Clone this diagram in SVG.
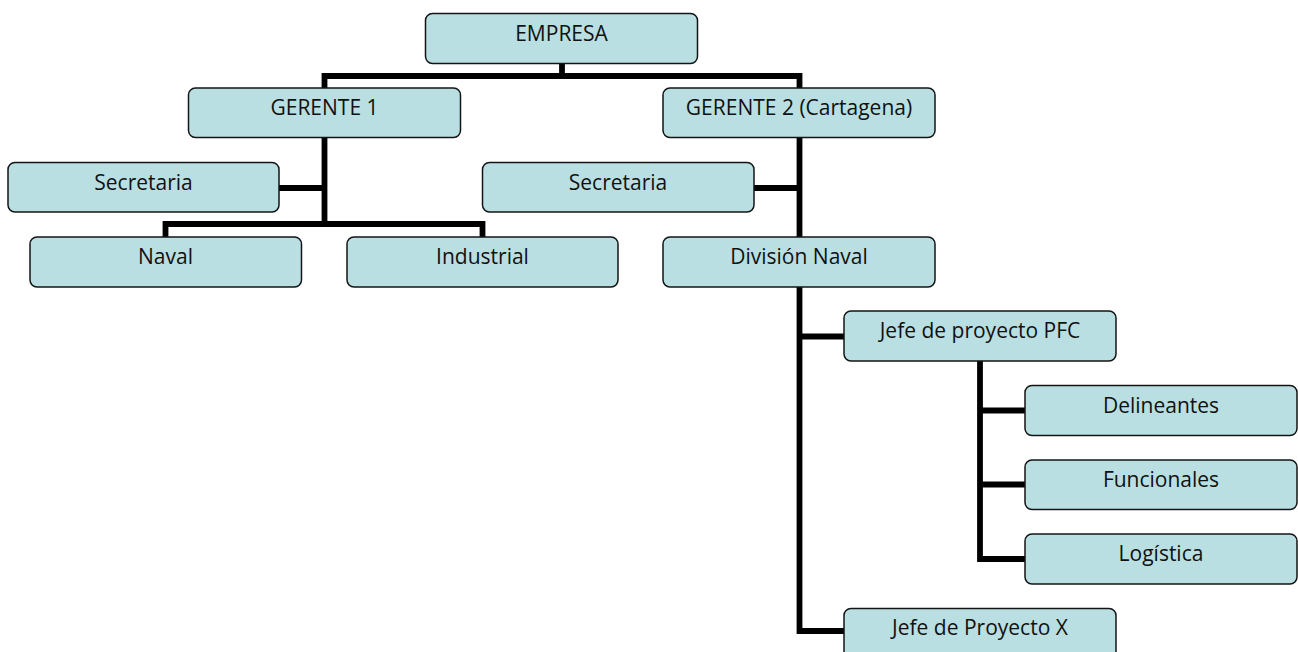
<svg xmlns="http://www.w3.org/2000/svg" width="1298" height="652" viewBox="0 0 1298 652">
  <style>
    .box { fill: #B9DFE2; stroke: #141414; stroke-width: 1.5; }
    .lbl { font-family: "Open Sans", "Liberation Sans", sans-serif; font-size: 21px; fill: #111; text-anchor: middle; }
    .conn { fill: none; stroke: #000; stroke-width: 5.8; stroke-linejoin: miter; stroke-linecap: butt; }
  </style>
  <rect width="1298" height="652" fill="#ffffff"/>
  <g id="connectors">
    <path class="conn" d="M562,63.5 V76"/>
    <path class="conn" d="M324.5,88 V76 H799.5 V88"/>
    <path class="conn" d="M324.5,137.5 V227"/>
    <path class="conn" d="M279,188 H324.5"/>
    <path class="conn" d="M165.5,237 V224 H482.5 V237"/>
    <path class="conn" d="M799.5,137.5 V237"/>
    <path class="conn" d="M754,188 H799.5"/>
    <path class="conn" d="M799.5,287 V631 H844"/>
    <path class="conn" d="M799.5,336.5 H844"/>
    <path class="conn" d="M980,360.5 V559 H1025"/>
    <path class="conn" d="M980,410.5 H1025"/>
    <path class="conn" d="M980,484.5 H1025"/>
  </g>
  <g id="empresa">
    <rect class="box" x="425.5" y="13.5" width="272" height="50" rx="7"/>
    <text class="lbl" x="561.5" y="40.5">EMPRESA</text>
  </g>
  <g id="gerente1">
    <rect class="box" x="188.5" y="88" width="272" height="49.5" rx="7"/>
    <text class="lbl" x="324.5" y="115">GERENTE 1</text>
  </g>
  <g id="gerente2">
    <rect class="box" x="663" y="88" width="272" height="49.5" rx="7"/>
    <text class="lbl" x="799" y="115">GERENTE 2 (Cartagena)</text>
  </g>
  <g id="secretaria1">
    <rect class="box" x="8" y="162.5" width="271" height="49.5" rx="7"/>
    <text class="lbl" x="143.5" y="189.5">Secretaria</text>
  </g>
  <g id="secretaria2">
    <rect class="box" x="482.5" y="162.5" width="271.5" height="49.5" rx="7"/>
    <text class="lbl" x="618" y="189.5">Secretaria</text>
  </g>
  <g id="naval">
    <rect class="box" x="30" y="237" width="271.5" height="50" rx="7"/>
    <text class="lbl" x="165.5" y="264">Naval</text>
  </g>
  <g id="industrial">
    <rect class="box" x="347" y="237" width="271" height="50" rx="7"/>
    <text class="lbl" x="482.5" y="264">Industrial</text>
  </g>
  <g id="division-naval">
    <rect class="box" x="663" y="237" width="272" height="50" rx="7"/>
    <text class="lbl" x="799" y="264">División Naval</text>
  </g>
  <g id="jefe-pfc">
    <rect class="box" x="844" y="311" width="272" height="50" rx="7"/>
    <text class="lbl" x="980" y="338">Jefe de proyecto PFC</text>
  </g>
  <g id="delineantes">
    <rect class="box" x="1025" y="385.5" width="272" height="50" rx="7"/>
    <text class="lbl" x="1161" y="412.5">Delineantes</text>
  </g>
  <g id="funcionales">
    <rect class="box" x="1025" y="460" width="272" height="49.5" rx="7"/>
    <text class="lbl" x="1161" y="487">Funcionales</text>
  </g>
  <g id="logistica">
    <rect class="box" x="1025" y="534" width="272" height="50" rx="7"/>
    <text class="lbl" x="1161" y="561">Logística</text>
  </g>
  <g id="jefe-x">
    <rect class="box" x="844" y="608.5" width="272" height="50" rx="7"/>
    <text class="lbl" x="980" y="635">Jefe de Proyecto X</text>
  </g>
</svg>
